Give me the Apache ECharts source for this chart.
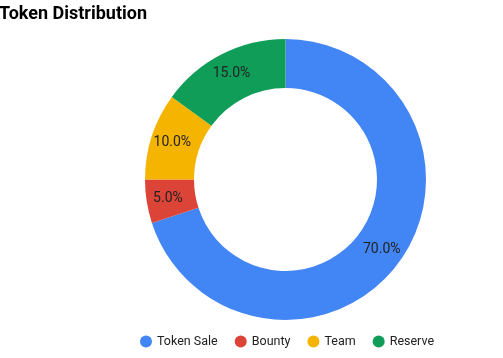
<!DOCTYPE html>
<html>
<head>
<meta charset="utf-8">
<script src="https://cdn.jsdelivr.net/npm/echarts@6/dist/echarts.min.js"></script>
<style>
html,body{margin:0;padding:0;background:#fff;}
#chart{width:503px;height:358px;}
</style>
</head>
<body>
<div id="chart"></div>
<script>
const categories = ['Token Sale', 'Bounty', 'Team', 'Reserve'];
const values = [70, 5, 10, 15];
const colors = ['#4285F4', '#DB4437', '#F4B400', '#0F9D58'];

const chart = echarts.init(document.getElementById('chart'), null, {renderer: 'canvas'});
chart.setOption({
  animation: false,
  color: colors,
  title: {
    text: 'Token Distribution',
    left: -1,
    top: 5,
    padding: 0,
    textStyle: {fontFamily: 'Roboto', fontWeight: 'bold', fontSize: 18, color: '#000'}
  },
  legend: {
    data: categories,
    left: 140,
    top: 335,
    padding: 0,
    icon: 'circle',
    itemWidth: 12,
    itemHeight: 12,
    itemGap: 17,
    textStyle: {fontFamily: 'Roboto', fontSize: 12.5, color: '#222'}
  },
  series: [{
    type: 'pie',
    center: [285.5, 179.5],
    radius: [91.5, 140.5],
    startAngle: 90,
    clockwise: true,
    label: {
      show: true,
      position: 'inside',
      formatter: function (p) { return p.value.toFixed(1) + '%'; },
      fontFamily: 'Roboto',
      fontSize: 14,
      color: '#222'
    },
    labelLine: {show: false},
    itemStyle: {borderWidth: 0},
    emphasis: {disabled: true},
    data: categories.map((c, i) => ({name: c, value: values[i]}))
  }]
});
</script>
</body>
</html>
